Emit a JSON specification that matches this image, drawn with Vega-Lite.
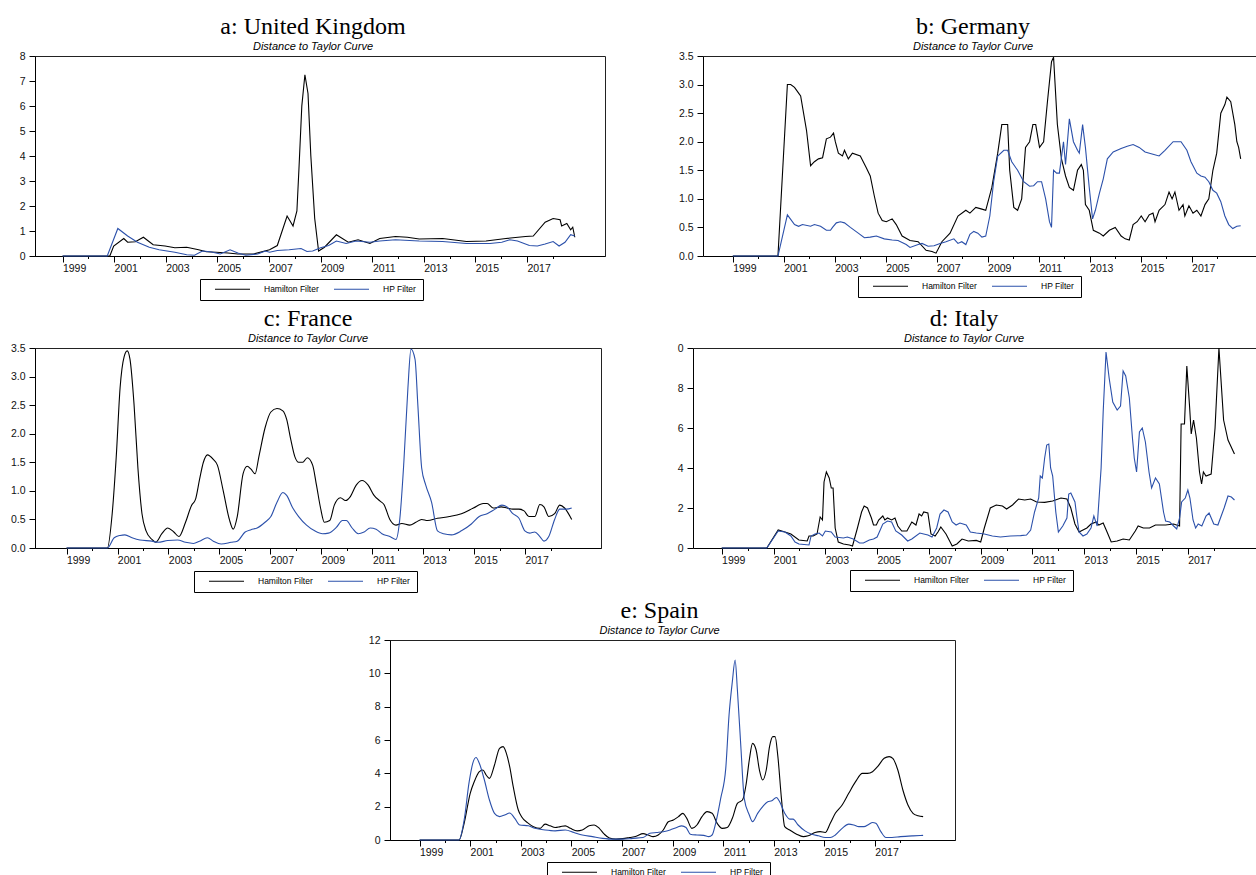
{
"$schema": "https://vega.github.io/schema/vega-lite/v6.json",
"padding": {"left": 9, "top": 14, "right": 0, "bottom": 0},
"config": {
 "font": "Liberation Sans",
 "view": {"stroke": "#222", "strokeWidth": 1},
 "axis": {"labelFont": "Liberation Sans", "labelFontSize": 10.5, "labelColor": "#111", "domainColor": "#000", "tickColor": "#000", "grid": false, "labelFlush": false, "labelOverlap": false, "labelBound": false, "labelSeparation": -40},
 "axisY": {"tickSize": 6, "labelPadding": 4, "labelOverlap": false},
 "title": {"font": "Liberation Serif", "fontSize": 24, "fontWeight": "normal", "color": "#000", "subtitleFont": "Liberation Sans", "subtitleFontStyle": "italic", "subtitleFontSize": 11, "subtitleColor": "#000", "subtitlePadding": 2, "offset": -1, "anchor": "middle"},
 "legend": {"orient": "none", "direction": "horizontal", "symbolType": "stroke", "symbolSize": 1225, "symbolStrokeWidth": 1.2, "clipHeight": 8, "symbolOffset": 8, "labelOffset": 13, "columnPadding": 6, "padding": 6, "labelFont": "Liberation Sans", "labelFontSize": 8.5, "labelColor": "#000", "strokeColor": "#000", "fillColor": "#fff"},
 "line": {"strokeWidth": 1.1}
},
"datasets": {
"uk_h": [{"t":1999,"v":0},{"t":2000.83,"v":0},{"t":2000.98,"v":0.4},{"t":2001.37,"v":0.7},{"t":2001.52,"v":0.55},{"t":2001.82,"v":0.57},{"t":2002.13,"v":0.75},{"t":2002.51,"v":0.45},{"t":2002.97,"v":0.4},{"t":2003.35,"v":0.33},{"t":2003.81,"v":0.35},{"t":2004.27,"v":0.25},{"t":2004.57,"v":0.17},{"t":2004.95,"v":0.15},{"t":2005.41,"v":0.12},{"t":2005.79,"v":0.08},{"t":2006.4,"v":0.08},{"t":2007.02,"v":0.25},{"t":2007.32,"v":0.42},{"t":2007.7,"v":1.6},{"t":2007.93,"v":1.2},{"t":2008.08,"v":1.8},{"t":2008.16,"v":3.5},{"t":2008.27,"v":6.0},{"t":2008.39,"v":7.25},{"t":2008.51,"v":6.5},{"t":2008.62,"v":4.0},{"t":2008.77,"v":1.5},{"t":2008.92,"v":0.2},{"t":2009.15,"v":0.35},{"t":2009.61,"v":0.85},{"t":2010.07,"v":0.55},{"t":2010.45,"v":0.65},{"t":2010.91,"v":0.5},{"t":2011.29,"v":0.7},{"t":2011.9,"v":0.78},{"t":2012.36,"v":0.75},{"t":2012.82,"v":0.68},{"t":2013.73,"v":0.7},{"t":2014.65,"v":0.58},{"t":2015.41,"v":0.6},{"t":2016.18,"v":0.7},{"t":2016.94,"v":0.78},{"t":2017.24,"v":0.8},{"t":2017.7,"v":1.35},{"t":2018.01,"v":1.5},{"t":2018.28,"v":1.45},{"t":2018.34,"v":1.2},{"t":2018.54,"v":1.3},{"t":2018.69,"v":1.05},{"t":2018.77,"v":1.15},{"t":2018.85,"v":0.75}],
"uk_p": [{"t":1999,"v":0},{"t":2000.73,"v":0},{"t":2001.14,"v":1.1},{"t":2001.52,"v":0.8},{"t":2001.9,"v":0.55},{"t":2002.36,"v":0.35},{"t":2002.74,"v":0.25},{"t":2003.35,"v":0.15},{"t":2003.81,"v":0.05},{"t":2004.11,"v":0.03},{"t":2004.42,"v":0.2},{"t":2004.73,"v":0.17},{"t":2005.11,"v":0.08},{"t":2005.49,"v":0.25},{"t":2005.79,"v":0.12},{"t":2006.1,"v":0.03},{"t":2006.56,"v":0.08},{"t":2006.86,"v":0.2},{"t":2007.02,"v":0.15},{"t":2007.32,"v":0.22},{"t":2007.78,"v":0.25},{"t":2008.24,"v":0.3},{"t":2008.47,"v":0.18},{"t":2008.69,"v":0.2},{"t":2009.0,"v":0.33},{"t":2009.31,"v":0.42},{"t":2009.61,"v":0.6},{"t":2009.99,"v":0.5},{"t":2010.37,"v":0.6},{"t":2010.91,"v":0.55},{"t":2011.29,"v":0.6},{"t":2011.9,"v":0.65},{"t":2012.82,"v":0.6},{"t":2013.73,"v":0.58},{"t":2014.65,"v":0.5},{"t":2015.56,"v":0.5},{"t":2016.02,"v":0.55},{"t":2016.33,"v":0.65},{"t":2016.63,"v":0.6},{"t":2017.09,"v":0.42},{"t":2017.4,"v":0.4},{"t":2017.7,"v":0.48},{"t":2018.01,"v":0.58},{"t":2018.24,"v":0.4},{"t":2018.47,"v":0.55},{"t":2018.69,"v":0.85},{"t":2018.85,"v":0.8}],
"de_h": [{"t":1999,"v":0},{"t":2000.77,"v":0},{"t":2001.14,"v":3.0},{"t":2001.27,"v":3.0},{"t":2001.42,"v":2.95},{"t":2001.58,"v":2.85},{"t":2001.66,"v":2.8},{"t":2001.89,"v":2.2},{"t":2002.05,"v":1.58},{"t":2002.2,"v":1.65},{"t":2002.36,"v":1.7},{"t":2002.52,"v":1.72},{"t":2002.67,"v":2.05},{"t":2002.83,"v":2.08},{"t":2002.95,"v":2.15},{"t":2003.02,"v":2.0},{"t":2003.14,"v":1.8},{"t":2003.3,"v":1.75},{"t":2003.38,"v":1.85},{"t":2003.53,"v":1.7},{"t":2003.69,"v":1.8},{"t":2004.0,"v":1.75},{"t":2004.23,"v":1.55},{"t":2004.39,"v":1.4},{"t":2004.55,"v":1.05},{"t":2004.7,"v":0.75},{"t":2004.86,"v":0.62},{"t":2005.02,"v":0.6},{"t":2005.25,"v":0.65},{"t":2005.41,"v":0.55},{"t":2005.64,"v":0.35},{"t":2005.95,"v":0.27},{"t":2006.27,"v":0.25},{"t":2006.58,"v":0.1},{"t":2006.81,"v":0.08},{"t":2006.97,"v":0.05},{"t":2007.2,"v":0.25},{"t":2007.52,"v":0.4},{"t":2007.83,"v":0.7},{"t":2008.14,"v":0.8},{"t":2008.3,"v":0.75},{"t":2008.53,"v":0.85},{"t":2008.77,"v":0.82},{"t":2008.92,"v":0.8},{"t":2009.16,"v":1.2},{"t":2009.39,"v":1.8},{"t":2009.55,"v":2.3},{"t":2009.7,"v":2.3},{"t":2009.78,"v":2.3},{"t":2009.86,"v":1.5},{"t":2010.02,"v":0.85},{"t":2010.17,"v":0.8},{"t":2010.33,"v":1.0},{"t":2010.48,"v":1.9},{"t":2010.64,"v":2.0},{"t":2010.77,"v":2.3},{"t":2010.88,"v":2.3},{"t":2011.03,"v":1.9},{"t":2011.19,"v":2.0},{"t":2011.34,"v":2.7},{"t":2011.5,"v":3.4},{"t":2011.58,"v":3.48},{"t":2011.73,"v":2.3},{"t":2011.89,"v":1.7},{"t":2012.05,"v":1.4},{"t":2012.2,"v":1.2},{"t":2012.36,"v":1.15},{"t":2012.52,"v":1.5},{"t":2012.67,"v":1.6},{"t":2012.75,"v":1.5},{"t":2012.83,"v":0.9},{"t":2012.98,"v":0.8},{"t":2013.14,"v":0.45},{"t":2013.38,"v":0.4},{"t":2013.53,"v":0.35},{"t":2013.77,"v":0.45},{"t":2014.0,"v":0.5},{"t":2014.23,"v":0.35},{"t":2014.39,"v":0.3},{"t":2014.55,"v":0.28},{"t":2014.7,"v":0.55},{"t":2014.86,"v":0.6},{"t":2015.02,"v":0.7},{"t":2015.17,"v":0.6},{"t":2015.33,"v":0.72},{"t":2015.48,"v":0.75},{"t":2015.56,"v":0.6},{"t":2015.72,"v":0.8},{"t":2015.95,"v":0.9},{"t":2016.11,"v":1.12},{"t":2016.23,"v":1.0},{"t":2016.34,"v":1.12},{"t":2016.5,"v":0.8},{"t":2016.66,"v":0.9},{"t":2016.73,"v":0.7},{"t":2016.89,"v":0.88},{"t":2017.05,"v":0.75},{"t":2017.2,"v":0.8},{"t":2017.36,"v":0.7},{"t":2017.52,"v":0.9},{"t":2017.67,"v":1.0},{"t":2017.83,"v":1.5},{"t":2017.98,"v":1.8},{"t":2018.14,"v":2.5},{"t":2018.3,"v":2.65},{"t":2018.38,"v":2.78},{"t":2018.53,"v":2.7},{"t":2018.69,"v":2.3},{"t":2018.77,"v":2.0},{"t":2018.84,"v":1.9},{"t":2018.92,"v":1.7}],
"de_p": [{"t":1999,"v":0},{"t":2000.77,"v":0},{"t":2001.14,"v":0.72},{"t":2001.42,"v":0.55},{"t":2001.58,"v":0.52},{"t":2001.73,"v":0.55},{"t":2002.05,"v":0.52},{"t":2002.2,"v":0.55},{"t":2002.44,"v":0.52},{"t":2002.67,"v":0.45},{"t":2002.83,"v":0.45},{"t":2002.91,"v":0.5},{"t":2003.06,"v":0.58},{"t":2003.22,"v":0.6},{"t":2003.38,"v":0.58},{"t":2003.61,"v":0.5},{"t":2003.92,"v":0.4},{"t":2004.16,"v":0.32},{"t":2004.39,"v":0.33},{"t":2004.63,"v":0.35},{"t":2004.94,"v":0.3},{"t":2005.25,"v":0.28},{"t":2005.48,"v":0.27},{"t":2005.8,"v":0.2},{"t":2005.95,"v":0.15},{"t":2006.27,"v":0.2},{"t":2006.42,"v":0.22},{"t":2006.66,"v":0.17},{"t":2006.89,"v":0.18},{"t":2007.13,"v":0.22},{"t":2007.36,"v":0.25},{"t":2007.67,"v":0.3},{"t":2007.83,"v":0.22},{"t":2007.98,"v":0.25},{"t":2008.14,"v":0.2},{"t":2008.3,"v":0.38},{"t":2008.45,"v":0.43},{"t":2008.61,"v":0.4},{"t":2008.77,"v":0.33},{"t":2008.92,"v":0.35},{"t":2009.08,"v":0.7},{"t":2009.23,"v":1.3},{"t":2009.39,"v":1.75},{"t":2009.63,"v":1.85},{"t":2009.78,"v":1.85},{"t":2009.94,"v":1.65},{"t":2010.17,"v":1.5},{"t":2010.41,"v":1.3},{"t":2010.64,"v":1.22},{"t":2010.8,"v":1.23},{"t":2010.95,"v":1.3},{"t":2011.11,"v":1.3},{"t":2011.27,"v":1.0},{"t":2011.42,"v":0.6},{"t":2011.5,"v":0.5},{"t":2011.58,"v":1.5},{"t":2011.7,"v":1.45},{"t":2011.81,"v":1.45},{"t":2011.97,"v":2.0},{"t":2012.05,"v":1.6},{"t":2012.2,"v":2.4},{"t":2012.36,"v":2.0},{"t":2012.52,"v":1.85},{"t":2012.59,"v":1.8},{"t":2012.72,"v":2.3},{"t":2012.83,"v":1.9},{"t":2012.98,"v":1.2},{"t":2013.11,"v":0.65},{"t":2013.22,"v":0.8},{"t":2013.38,"v":1.1},{"t":2013.53,"v":1.35},{"t":2013.69,"v":1.7},{"t":2013.92,"v":1.82},{"t":2014.23,"v":1.88},{"t":2014.47,"v":1.92},{"t":2014.7,"v":1.95},{"t":2014.94,"v":1.9},{"t":2015.17,"v":1.82},{"t":2015.48,"v":1.78},{"t":2015.72,"v":1.75},{"t":2015.95,"v":1.85},{"t":2016.27,"v":2.0},{"t":2016.58,"v":2.0},{"t":2016.81,"v":1.85},{"t":2016.97,"v":1.65},{"t":2017.2,"v":1.45},{"t":2017.36,"v":1.4},{"t":2017.52,"v":1.38},{"t":2017.67,"v":1.3},{"t":2017.83,"v":1.15},{"t":2017.98,"v":1.1},{"t":2018.14,"v":0.95},{"t":2018.3,"v":0.7},{"t":2018.45,"v":0.55},{"t":2018.61,"v":0.48},{"t":2018.77,"v":0.52},{"t":2018.92,"v":0.53}],
"fr_h": [{"t":1999,"v":0},{"t":2000.6,"v":0},{"t":2000.79,"v":0.6},{"t":2000.95,"v":1.6},{"t":2001.1,"v":2.8},{"t":2001.26,"v":3.35},{"t":2001.38,"v":3.45},{"t":2001.49,"v":3.3},{"t":2001.65,"v":2.5},{"t":2001.8,"v":1.4},{"t":2001.96,"v":0.6},{"t":2002.12,"v":0.3},{"t":2002.35,"v":0.15},{"t":2002.5,"v":0.1},{"t":2002.74,"v":0.25},{"t":2002.97,"v":0.35},{"t":2003.21,"v":0.28},{"t":2003.41,"v":0.2},{"t":2003.67,"v":0.45},{"t":2003.91,"v":0.75},{"t":2004.06,"v":0.85},{"t":2004.22,"v":1.2},{"t":2004.37,"v":1.5},{"t":2004.53,"v":1.63},{"t":2004.76,"v":1.55},{"t":2004.92,"v":1.45},{"t":2005.15,"v":1.0},{"t":2005.39,"v":0.5},{"t":2005.54,"v":0.33},{"t":2005.7,"v":0.55},{"t":2005.93,"v":1.3},{"t":2006.09,"v":1.43},{"t":2006.24,"v":1.38},{"t":2006.4,"v":1.3},{"t":2006.55,"v":1.6},{"t":2006.79,"v":2.1},{"t":2007.02,"v":2.38},{"t":2007.26,"v":2.44},{"t":2007.49,"v":2.4},{"t":2007.64,"v":2.25},{"t":2007.8,"v":1.9},{"t":2007.96,"v":1.6},{"t":2008.11,"v":1.5},{"t":2008.27,"v":1.5},{"t":2008.45,"v":1.58},{"t":2008.66,"v":1.45},{"t":2008.81,"v":1.1},{"t":2008.97,"v":0.7},{"t":2009.12,"v":0.45},{"t":2009.33,"v":0.48},{"t":2009.51,"v":0.75},{"t":2009.75,"v":0.88},{"t":2009.95,"v":0.83},{"t":2010.14,"v":0.9},{"t":2010.37,"v":1.1},{"t":2010.6,"v":1.18},{"t":2010.84,"v":1.1},{"t":2011.07,"v":0.92},{"t":2011.31,"v":0.82},{"t":2011.46,"v":0.76},{"t":2011.69,"v":0.5},{"t":2011.93,"v":0.4},{"t":2012.16,"v":0.43},{"t":2012.47,"v":0.4},{"t":2012.71,"v":0.45},{"t":2012.94,"v":0.5},{"t":2013.17,"v":0.48},{"t":2013.56,"v":0.52},{"t":2014.03,"v":0.55},{"t":2014.5,"v":0.6},{"t":2014.97,"v":0.7},{"t":2015.36,"v":0.78},{"t":2015.51,"v":0.78},{"t":2015.74,"v":0.7},{"t":2016.06,"v":0.72},{"t":2016.29,"v":0.7},{"t":2016.52,"v":0.68},{"t":2016.76,"v":0.68},{"t":2016.96,"v":0.65},{"t":2017.15,"v":0.55},{"t":2017.38,"v":0.55},{"t":2017.58,"v":0.76},{"t":2017.74,"v":0.72},{"t":2017.93,"v":0.55},{"t":2018.16,"v":0.6},{"t":2018.36,"v":0.75},{"t":2018.55,"v":0.7},{"t":2018.83,"v":0.5}],
"fr_p": [{"t":1999,"v":0},{"t":2000.6,"v":0},{"t":2000.87,"v":0.18},{"t":2001.1,"v":0.22},{"t":2001.29,"v":0.23},{"t":2001.57,"v":0.18},{"t":2001.88,"v":0.14},{"t":2002.35,"v":0.12},{"t":2002.58,"v":0.1},{"t":2002.97,"v":0.13},{"t":2003.36,"v":0.14},{"t":2003.67,"v":0.1},{"t":2003.98,"v":0.08},{"t":2004.22,"v":0.12},{"t":2004.53,"v":0.18},{"t":2004.76,"v":0.12},{"t":2005.07,"v":0.07},{"t":2005.46,"v":0.1},{"t":2005.7,"v":0.12},{"t":2006.01,"v":0.28},{"t":2006.24,"v":0.32},{"t":2006.48,"v":0.35},{"t":2006.79,"v":0.45},{"t":2007.02,"v":0.55},{"t":2007.26,"v":0.8},{"t":2007.49,"v":0.97},{"t":2007.64,"v":0.92},{"t":2007.88,"v":0.7},{"t":2008.11,"v":0.55},{"t":2008.42,"v":0.4},{"t":2008.74,"v":0.3},{"t":2009.05,"v":0.25},{"t":2009.28,"v":0.26},{"t":2009.59,"v":0.36},{"t":2009.83,"v":0.48},{"t":2009.98,"v":0.48},{"t":2010.21,"v":0.35},{"t":2010.45,"v":0.25},{"t":2010.68,"v":0.28},{"t":2010.92,"v":0.35},{"t":2011.15,"v":0.33},{"t":2011.38,"v":0.25},{"t":2011.69,"v":0.2},{"t":2011.93,"v":0.15},{"t":2012.08,"v":0.5},{"t":2012.24,"v":1.5},{"t":2012.4,"v":2.8},{"t":2012.52,"v":3.48},{"t":2012.68,"v":3.3},{"t":2012.79,"v":2.5},{"t":2012.94,"v":1.4},{"t":2013.1,"v":1.1},{"t":2013.33,"v":0.8},{"t":2013.56,"v":0.3},{"t":2013.8,"v":0.25},{"t":2014.11,"v":0.23},{"t":2014.5,"v":0.3},{"t":2014.89,"v":0.42},{"t":2015.2,"v":0.55},{"t":2015.51,"v":0.6},{"t":2015.82,"v":0.68},{"t":2016.09,"v":0.75},{"t":2016.29,"v":0.72},{"t":2016.52,"v":0.6},{"t":2016.76,"v":0.52},{"t":2016.99,"v":0.3},{"t":2017.18,"v":0.26},{"t":2017.38,"v":0.28},{"t":2017.58,"v":0.2},{"t":2017.74,"v":0.12},{"t":2017.93,"v":0.2},{"t":2018.16,"v":0.5},{"t":2018.36,"v":0.68},{"t":2018.63,"v":0.68},{"t":2018.83,"v":0.7}],
"it_h": [{"t":1999,"v":0},{"t":2000.74,"v":0},{"t":2001.18,"v":0.9},{"t":2001.44,"v":0.8},{"t":2001.67,"v":0.7},{"t":2001.98,"v":0.4},{"t":2002.3,"v":0.35},{"t":2002.37,"v":0.6},{"t":2002.53,"v":0.6},{"t":2002.68,"v":0.7},{"t":2002.8,"v":1.55},{"t":2002.89,"v":1.4},{"t":2002.95,"v":3.3},{"t":2003.04,"v":3.8},{"t":2003.15,"v":3.5},{"t":2003.23,"v":3.0},{"t":2003.3,"v":3.0},{"t":2003.38,"v":1.0},{"t":2003.5,"v":0.3},{"t":2003.7,"v":0.2},{"t":2003.93,"v":0.15},{"t":2004.05,"v":0.1},{"t":2004.24,"v":1.0},{"t":2004.4,"v":1.8},{"t":2004.5,"v":2.1},{"t":2004.63,"v":2.0},{"t":2004.78,"v":1.5},{"t":2004.86,"v":1.15},{"t":2004.97,"v":1.15},{"t":2005.06,"v":1.4},{"t":2005.22,"v":1.6},{"t":2005.3,"v":1.4},{"t":2005.4,"v":1.5},{"t":2005.56,"v":1.4},{"t":2005.69,"v":1.5},{"t":2005.8,"v":1.1},{"t":2005.95,"v":0.85},{"t":2006.15,"v":0.85},{"t":2006.34,"v":1.3},{"t":2006.5,"v":1.15},{"t":2006.62,"v":1.7},{"t":2006.72,"v":1.6},{"t":2006.8,"v":1.8},{"t":2006.96,"v":1.75},{"t":2007.08,"v":0.7},{"t":2007.24,"v":0.6},{"t":2007.35,"v":0.8},{"t":2007.46,"v":1.05},{"t":2007.66,"v":0.7},{"t":2007.82,"v":0.3},{"t":2007.9,"v":0.1},{"t":2008.08,"v":0.2},{"t":2008.28,"v":0.45},{"t":2008.52,"v":0.35},{"t":2008.83,"v":0.38},{"t":2009.0,"v":0.3},{"t":2009.14,"v":1.0},{"t":2009.37,"v":2.0},{"t":2009.6,"v":2.15},{"t":2009.84,"v":2.1},{"t":2010.0,"v":1.95},{"t":2010.23,"v":2.15},{"t":2010.46,"v":2.45},{"t":2010.7,"v":2.4},{"t":2010.93,"v":2.45},{"t":2011.16,"v":2.3},{"t":2011.47,"v":2.28},{"t":2011.78,"v":2.35},{"t":2012.1,"v":2.5},{"t":2012.33,"v":2.45},{"t":2012.48,"v":2.0},{"t":2012.64,"v":1.2},{"t":2012.8,"v":0.8},{"t":2012.95,"v":0.9},{"t":2013.1,"v":1.0},{"t":2013.26,"v":1.2},{"t":2013.46,"v":1.3},{"t":2013.56,"v":1.15},{"t":2013.73,"v":1.25},{"t":2013.88,"v":0.8},{"t":2014.04,"v":0.3},{"t":2014.27,"v":0.35},{"t":2014.5,"v":0.45},{"t":2014.74,"v":0.4},{"t":2014.97,"v":0.85},{"t":2015.08,"v":1.1},{"t":2015.28,"v":1.0},{"t":2015.52,"v":1.0},{"t":2015.75,"v":1.15},{"t":2016.14,"v":1.15},{"t":2016.45,"v":1.2},{"t":2016.68,"v":1.1},{"t":2016.74,"v":6.2},{"t":2016.87,"v":6.2},{"t":2016.96,"v":9.1},{"t":2017.07,"v":7.0},{"t":2017.13,"v":5.7},{"t":2017.22,"v":6.4},{"t":2017.33,"v":5.5},{"t":2017.45,"v":3.8},{"t":2017.53,"v":3.2},{"t":2017.6,"v":3.8},{"t":2017.7,"v":3.6},{"t":2017.9,"v":3.7},{"t":2018.05,"v":6.0},{"t":2018.2,"v":10.0},{"t":2018.38,"v":6.4},{"t":2018.55,"v":5.4},{"t":2018.8,"v":4.7}],
"it_p": [{"t":1999,"v":0},{"t":2000.74,"v":0},{"t":2001.18,"v":0.85},{"t":2001.44,"v":0.8},{"t":2001.67,"v":0.6},{"t":2001.83,"v":0.3},{"t":2001.98,"v":0.2},{"t":2002.37,"v":0.15},{"t":2002.45,"v":0.6},{"t":2002.6,"v":0.7},{"t":2002.76,"v":0.75},{"t":2002.89,"v":0.6},{"t":2003.0,"v":0.85},{"t":2003.23,"v":0.8},{"t":2003.38,"v":0.55},{"t":2003.7,"v":0.5},{"t":2003.85,"v":0.55},{"t":2004.08,"v":0.45},{"t":2004.32,"v":0.25},{"t":2004.47,"v":0.25},{"t":2004.7,"v":0.4},{"t":2004.86,"v":0.45},{"t":2005.0,"v":0.55},{"t":2005.22,"v":1.2},{"t":2005.4,"v":1.35},{"t":2005.56,"v":1.3},{"t":2005.72,"v":0.85},{"t":2005.95,"v":0.65},{"t":2006.18,"v":0.35},{"t":2006.34,"v":0.45},{"t":2006.65,"v":0.75},{"t":2006.8,"v":0.7},{"t":2006.96,"v":0.65},{"t":2007.12,"v":0.55},{"t":2007.3,"v":1.0},{"t":2007.43,"v":1.7},{"t":2007.58,"v":1.9},{"t":2007.74,"v":1.8},{"t":2007.9,"v":1.3},{"t":2008.05,"v":1.15},{"t":2008.2,"v":1.25},{"t":2008.44,"v":1.15},{"t":2008.6,"v":0.8},{"t":2008.83,"v":0.75},{"t":2009.14,"v":0.7},{"t":2009.45,"v":0.6},{"t":2009.76,"v":0.55},{"t":2010.15,"v":0.6},{"t":2010.54,"v":0.62},{"t":2010.77,"v":0.65},{"t":2010.93,"v":0.9},{"t":2011.08,"v":1.8},{"t":2011.24,"v":2.5},{"t":2011.3,"v":3.6},{"t":2011.38,"v":3.5},{"t":2011.47,"v":4.5},{"t":2011.55,"v":5.15},{"t":2011.63,"v":5.2},{"t":2011.7,"v":4.0},{"t":2011.78,"v":3.6},{"t":2011.9,"v":1.8},{"t":2012.0,"v":0.8},{"t":2012.17,"v":1.1},{"t":2012.33,"v":1.5},{"t":2012.4,"v":2.7},{"t":2012.48,"v":2.75},{"t":2012.64,"v":2.3},{"t":2012.72,"v":1.5},{"t":2012.8,"v":0.8},{"t":2012.95,"v":0.6},{"t":2013.1,"v":0.7},{"t":2013.26,"v":1.0},{"t":2013.37,"v":1.6},{"t":2013.5,"v":1.1},{"t":2013.65,"v":4.0},{"t":2013.73,"v":6.8},{"t":2013.84,"v":9.8},{"t":2013.96,"v":8.5},{"t":2014.1,"v":7.3},{"t":2014.27,"v":6.9},{"t":2014.4,"v":7.1},{"t":2014.5,"v":8.85},{"t":2014.6,"v":8.6},{"t":2014.74,"v":7.5},{"t":2014.86,"v":5.5},{"t":2014.93,"v":4.5},{"t":2015.02,"v":3.8},{"t":2015.13,"v":5.8},{"t":2015.24,"v":6.0},{"t":2015.36,"v":5.3},{"t":2015.5,"v":3.8},{"t":2015.6,"v":3.0},{"t":2015.75,"v":3.5},{"t":2015.9,"v":3.2},{"t":2016.06,"v":1.8},{"t":2016.14,"v":1.35},{"t":2016.3,"v":1.3},{"t":2016.45,"v":1.1},{"t":2016.57,"v":0.95},{"t":2016.68,"v":1.5},{"t":2016.76,"v":2.3},{"t":2016.9,"v":2.5},{"t":2017.0,"v":2.9},{"t":2017.08,"v":2.5},{"t":2017.2,"v":1.4},{"t":2017.3,"v":1.0},{"t":2017.4,"v":1.2},{"t":2017.54,"v":1.1},{"t":2017.7,"v":1.6},{"t":2017.82,"v":1.75},{"t":2018.0,"v":1.2},{"t":2018.16,"v":1.15},{"t":2018.4,"v":2.0},{"t":2018.55,"v":2.6},{"t":2018.68,"v":2.55},{"t":2018.8,"v":2.4}],
"es_h": [{"t":1999,"v":0},{"t":2000.56,"v":0},{"t":2000.76,"v":1.0},{"t":2001.0,"v":2.8},{"t":2001.16,"v":3.5},{"t":2001.36,"v":4.1},{"t":2001.5,"v":4.2},{"t":2001.63,"v":3.9},{"t":2001.76,"v":3.7},{"t":2001.96,"v":4.5},{"t":2002.16,"v":5.5},{"t":2002.3,"v":5.6},{"t":2002.43,"v":5.2},{"t":2002.56,"v":4.4},{"t":2002.7,"v":3.2},{"t":2002.9,"v":1.8},{"t":2003.03,"v":1.4},{"t":2003.3,"v":1.0},{"t":2003.5,"v":0.8},{"t":2003.76,"v":0.7},{"t":2003.96,"v":0.95},{"t":2004.16,"v":0.85},{"t":2004.36,"v":0.75},{"t":2004.56,"v":0.8},{"t":2004.76,"v":0.85},{"t":2004.96,"v":0.7},{"t":2005.23,"v":0.55},{"t":2005.43,"v":0.6},{"t":2005.7,"v":0.85},{"t":2005.9,"v":0.9},{"t":2006.1,"v":0.7},{"t":2006.3,"v":0.35},{"t":2006.5,"v":0.12},{"t":2006.76,"v":0.05},{"t":2007.03,"v":0.08},{"t":2007.3,"v":0.15},{"t":2007.56,"v":0.22},{"t":2007.83,"v":0.38},{"t":2008.03,"v":0.3},{"t":2008.23,"v":0.2},{"t":2008.43,"v":0.3},{"t":2008.63,"v":0.6},{"t":2008.83,"v":1.1},{"t":2009.03,"v":1.2},{"t":2009.23,"v":1.4},{"t":2009.4,"v":1.6},{"t":2009.56,"v":1.3},{"t":2009.76,"v":0.7},{"t":2009.96,"v":0.9},{"t":2010.16,"v":1.4},{"t":2010.36,"v":1.7},{"t":2010.56,"v":1.6},{"t":2010.76,"v":1.0},{"t":2010.96,"v":0.7},{"t":2011.16,"v":0.75},{"t":2011.36,"v":1.3},{"t":2011.56,"v":2.2},{"t":2011.76,"v":2.4},{"t":2011.9,"v":3.3},{"t":2012.03,"v":4.8},{"t":2012.16,"v":5.8},{"t":2012.3,"v":5.4},{"t":2012.43,"v":4.2},{"t":2012.56,"v":3.6},{"t":2012.7,"v":4.2},{"t":2012.83,"v":5.6},{"t":2012.96,"v":6.2},{"t":2013.05,"v":6.2},{"t":2013.16,"v":5.0},{"t":2013.3,"v":2.5},{"t":2013.43,"v":0.8},{"t":2013.63,"v":0.6},{"t":2013.9,"v":0.35},{"t":2014.16,"v":0.2},{"t":2014.36,"v":0.25},{"t":2014.63,"v":0.45},{"t":2014.83,"v":0.5},{"t":2015.03,"v":0.45},{"t":2015.23,"v":1.0},{"t":2015.43,"v":1.6},{"t":2015.7,"v":2.1},{"t":2015.96,"v":2.8},{"t":2016.23,"v":3.5},{"t":2016.5,"v":4.0},{"t":2016.7,"v":4.0},{"t":2016.9,"v":4.1},{"t":2017.1,"v":4.4},{"t":2017.36,"v":4.9},{"t":2017.56,"v":5.0},{"t":2017.7,"v":4.9},{"t":2017.9,"v":4.2},{"t":2018.1,"v":3.0},{"t":2018.3,"v":2.1},{"t":2018.5,"v":1.6},{"t":2018.7,"v":1.45},{"t":2018.9,"v":1.4}],
"es_p": [{"t":1999,"v":0},{"t":2000.56,"v":0},{"t":2000.76,"v":1.2},{"t":2000.96,"v":3.5},{"t":2001.1,"v":4.6},{"t":2001.23,"v":4.95},{"t":2001.36,"v":4.6},{"t":2001.56,"v":3.6},{"t":2001.76,"v":2.4},{"t":2001.96,"v":1.6},{"t":2002.16,"v":1.4},{"t":2002.36,"v":1.5},{"t":2002.56,"v":1.62},{"t":2002.76,"v":1.3},{"t":2002.96,"v":0.9},{"t":2003.3,"v":0.85},{"t":2003.56,"v":0.7},{"t":2003.96,"v":0.6},{"t":2004.36,"v":0.55},{"t":2004.76,"v":0.6},{"t":2005.1,"v":0.45},{"t":2005.43,"v":0.3},{"t":2005.83,"v":0.2},{"t":2006.23,"v":0.1},{"t":2006.63,"v":0.05},{"t":2007.03,"v":0.05},{"t":2007.43,"v":0.1},{"t":2007.83,"v":0.15},{"t":2008.1,"v":0.4},{"t":2008.36,"v":0.45},{"t":2008.63,"v":0.5},{"t":2008.9,"v":0.6},{"t":2009.16,"v":0.75},{"t":2009.36,"v":0.85},{"t":2009.53,"v":0.75},{"t":2009.7,"v":0.35},{"t":2009.96,"v":0.3},{"t":2010.23,"v":0.28},{"t":2010.43,"v":0.2},{"t":2010.56,"v":0.3},{"t":2010.7,"v":1.0},{"t":2010.9,"v":2.5},{"t":2011.1,"v":4.3},{"t":2011.23,"v":7.5},{"t":2011.36,"v":9.5},{"t":2011.47,"v":10.8},{"t":2011.56,"v":9.0},{"t":2011.7,"v":5.5},{"t":2011.83,"v":2.5},{"t":2012.03,"v":1.5},{"t":2012.16,"v":1.1},{"t":2012.36,"v":1.6},{"t":2012.56,"v":2.0},{"t":2012.76,"v":2.3},{"t":2012.92,"v":2.35},{"t":2013.1,"v":2.55},{"t":2013.23,"v":2.3},{"t":2013.43,"v":1.6},{"t":2013.63,"v":1.25},{"t":2013.76,"v":1.25},{"t":2013.96,"v":0.9},{"t":2014.23,"v":0.55},{"t":2014.5,"v":0.35},{"t":2014.76,"v":0.25},{"t":2015.03,"v":0.15},{"t":2015.23,"v":0.15},{"t":2015.43,"v":0.3},{"t":2015.7,"v":0.7},{"t":2015.96,"v":0.95},{"t":2016.16,"v":0.9},{"t":2016.36,"v":0.8},{"t":2016.56,"v":0.8},{"t":2016.76,"v":0.95},{"t":2016.9,"v":1.05},{"t":2017.03,"v":1.0},{"t":2017.23,"v":0.5},{"t":2017.43,"v":0.15},{"t":2017.67,"v":0.15},{"t":2018.0,"v":0.2},{"t":2018.5,"v":0.25},{"t":2018.9,"v":0.28}]
},
"vconcat": [
 {"hconcat": [
  {"width": 570, "height": 200,
   "title": {"text": "a: United Kingdom", "subtitle": "Distance to Taylor Curve", "frame": "group", "dx": -7},
   "layer": [
    {"data": {"name": "uk_h"}, "mark": {"type": "line"},
     "encoding": {
      "x": {"field": "t", "type": "quantitative", "scale": {"domain": [1997.93, 2020.02], "nice": false, "zero": false},
            "axis": {"title": null, "values": [1999,2000,2001,2002,2003,2004,2005,2006,2007,2008,2009,2010,2011,2012,2013,2014,2015,2016,2017,2018], "labelExpr": "datum.value % 2 == 1 ? toString(datum.value) : ''", "tickSize": {"condition": {"test": "datum.value % 2 == 1", "value": 6}, "value": 2.5}, "labelOffset": 11.5, "labelPadding": 1, "labelOverlap": false}},
      "y": {"field": "v", "type": "quantitative", "scale": {"domain": [0, 8], "nice": false}, "axis": {"title": null, "values": [0,1,2,3,4,5,6,7,8], "labelOverlap": false}},
      "color": {"datum": "Hamilton Filter", "type": "nominal", "scale": {"domain": ["Hamilton Filter", "HP Filter"], "range": ["#000000", "#2b50aa"]}, "legend": {"title": null, "legendX": 165, "legendY": 223}}
     }},
    {"data": {"name": "uk_p"}, "mark": {"type": "line"},
     "encoding": {
      "x": {"field": "t", "type": "quantitative", "scale": {"domain": [1997.93, 2020.02], "nice": false, "zero": false},
            "axis": {"title": null, "values": [1999,2000,2001,2002,2003,2004,2005,2006,2007,2008,2009,2010,2011,2012,2013,2014,2015,2016,2017,2018], "labelExpr": "datum.value % 2 == 1 ? toString(datum.value) : ''", "tickSize": {"condition": {"test": "datum.value % 2 == 1", "value": 6}, "value": 2.5}, "labelOffset": 11.5, "labelPadding": 1, "labelOverlap": false}},
      "y": {"field": "v", "type": "quantitative", "scale": {"domain": [0, 8], "nice": false}, "axis": {"title": null, "values": [0,1,2,3,4,5,6,7,8], "labelOverlap": false}},
      "color": {"datum": "HP Filter", "type": "nominal"}
     }}
   ]},
  {"width": 554, "height": 200,
   "view": {"stroke": null},
   "title": {"text": "b: Germany", "subtitle": "Distance to Taylor Curve", "frame": "group", "dx": -7},
   "resolve": {"axis": {"x": "independent"}},
   "layer": [
    {"data": {"name": "de_h"}, "mark": {"type": "line"},
     "encoding": {
      "x": {"field": "t", "type": "quantitative", "scale": {"domain": [1997.83, 2019.56], "nice": false, "zero": false},
            "axis": {"title": null, "values": [1999,2000,2001,2002,2003,2004,2005,2006,2007,2008,2009,2010,2011,2012,2013,2014,2015,2016,2017,2018], "labelExpr": "datum.value % 2 == 1 ? toString(datum.value) : ''", "tickSize": {"condition": {"test": "datum.value % 2 == 1", "value": 6}, "value": 2.5}, "labelOffset": 11.5, "labelPadding": 1, "labelOverlap": false}},
      "y": {"field": "v", "type": "quantitative", "scale": {"domain": [0, 3.5], "nice": false}, "axis": {"title": null, "values": [0,0.5,1,1.5,2,2.5,3,3.5], "format": ".1f", "labelOverlap": false}},
      "color": {"datum": "Hamilton Filter", "type": "nominal", "scale": {"domain": ["Hamilton Filter", "HP Filter"], "range": ["#000000", "#2b50aa"]}, "legend": {"title": null, "legendX": 155, "legendY": 220}}
     }},
    {"data": {"name": "de_p"}, "mark": {"type": "line"},
     "encoding": {
      "x": {"field": "t", "type": "quantitative", "scale": {"domain": [1997.83, 2019.56], "nice": false, "zero": false},
            "axis": {"orient": "top", "title": null, "labels": false, "ticks": false, "domain": true, "domainColor": "#222"}},
      "y": {"field": "v", "type": "quantitative", "scale": {"domain": [0, 3.5], "nice": false}, "axis": {"title": null, "values": [0,0.5,1,1.5,2,2.5,3,3.5], "format": ".1f", "labelOverlap": false}},
      "color": {"datum": "HP Filter", "type": "nominal"}
     }}
   ]}
 ], "spacing": 98, "bounds": "flush", "resolve": {"scale": {"color": "independent"}, "legend": {"color": "independent"}}},
 {"hconcat": [
  {"width": 566, "height": 200,
   "title": {"text": "c: France", "subtitle": "Distance to Taylor Curve", "frame": "group", "dx": -10},
   "layer": [
    {"data": {"name": "fr_h"}, "mark": {"type": "line", "interpolate": "monotone"},
     "encoding": {
      "x": {"field": "t", "type": "quantitative", "scale": {"domain": [1997.76, 2019.98], "nice": false, "zero": false},
            "axis": {"title": null, "values": [1999,2000,2001,2002,2003,2004,2005,2006,2007,2008,2009,2010,2011,2012,2013,2014,2015,2016,2017,2018], "labelExpr": "datum.value % 2 == 1 ? toString(datum.value) : ''", "tickSize": {"condition": {"test": "datum.value % 2 == 1", "value": 6}, "value": 2.5}, "labelOffset": 11.5, "labelPadding": 1, "labelOverlap": false}},
      "y": {"field": "v", "type": "quantitative", "scale": {"domain": [0, 3.5], "nice": false}, "axis": {"title": null, "values": [0,0.5,1,1.5,2,2.5,3,3.5], "format": ".1f", "labelOverlap": false}},
      "color": {"datum": "Hamilton Filter", "type": "nominal", "scale": {"domain": ["Hamilton Filter", "HP Filter"], "range": ["#000000", "#2b50aa"]}, "legend": {"title": null, "legendX": 159, "legendY": 223}}
     }},
    {"data": {"name": "fr_p"}, "mark": {"type": "line", "interpolate": "monotone"},
     "encoding": {
      "x": {"field": "t", "type": "quantitative", "scale": {"domain": [1997.76, 2019.98], "nice": false, "zero": false},
            "axis": {"title": null, "values": [1999,2000,2001,2002,2003,2004,2005,2006,2007,2008,2009,2010,2011,2012,2013,2014,2015,2016,2017,2018], "labelExpr": "datum.value % 2 == 1 ? toString(datum.value) : ''", "tickSize": {"condition": {"test": "datum.value % 2 == 1", "value": 6}, "value": 2.5}, "labelOffset": 11.5, "labelPadding": 1, "labelOverlap": false}},
      "y": {"field": "v", "type": "quantitative", "scale": {"domain": [0, 3.5], "nice": false}, "axis": {"title": null, "values": [0,0.5,1,1.5,2,2.5,3,3.5], "format": ".1f", "labelOverlap": false}},
      "color": {"datum": "HP Filter", "type": "nominal"}
     }}
   ]},
  {"width": 564, "height": 200,
   "view": {"stroke": null},
   "title": {"text": "d: Italy", "subtitle": "Distance to Taylor Curve", "frame": "group", "dx": -11},
   "resolve": {"axis": {"x": "independent"}},
   "layer": [
    {"data": {"name": "it_h"}, "mark": {"type": "line"},
     "encoding": {
      "x": {"field": "t", "type": "quantitative", "scale": {"domain": [1997.89, 2019.67], "nice": false, "zero": false},
            "axis": {"title": null, "values": [1999,2000,2001,2002,2003,2004,2005,2006,2007,2008,2009,2010,2011,2012,2013,2014,2015,2016,2017,2018], "labelExpr": "datum.value % 2 == 1 ? toString(datum.value) : ''", "tickSize": {"condition": {"test": "datum.value % 2 == 1", "value": 6}, "value": 2.5}, "labelOffset": 11.5, "labelPadding": 1, "labelOverlap": false}},
      "y": {"field": "v", "type": "quantitative", "scale": {"domain": [0, 10], "nice": false}, "axis": {"title": null, "values": [0,2,4,6,8,10], "labelExpr": "datum.value == 10 ? '0' : datum.label", "labelOverlap": false}},
      "color": {"datum": "Hamilton Filter", "type": "nominal", "scale": {"domain": ["Hamilton Filter", "HP Filter"], "range": ["#000000", "#2b50aa"]}, "legend": {"title": null, "legendX": 157, "legendY": 222}}
     }},
    {"data": {"name": "it_p"}, "mark": {"type": "line"},
     "encoding": {
      "x": {"field": "t", "type": "quantitative", "scale": {"domain": [1997.89, 2019.67], "nice": false, "zero": false},
            "axis": {"orient": "top", "title": null, "labels": false, "ticks": false, "domain": true, "domainColor": "#222"}},
      "y": {"field": "v", "type": "quantitative", "scale": {"domain": [0, 10], "nice": false}, "axis": {"title": null, "values": [0,2,4,6,8,10], "labelExpr": "datum.value == 10 ? '0' : datum.label", "labelOverlap": false}},
      "color": {"datum": "HP Filter", "type": "nominal"}
     }}
   ]}
 ], "spacing": 92, "bounds": "flush", "resolve": {"scale": {"color": "independent"}, "legend": {"color": "independent"}}},
 {"hconcat": [
  {"width": 335, "height": 200, "view": {"stroke": null}, "data": {"values": [{}]}, "mark": {"type": "point", "opacity": 0}, "encoding": {}},
  {"width": 565, "height": 200,
   "title": {"text": "e: Spain", "subtitle": "Distance to Taylor Curve", "frame": "group", "dx": -13},
   "layer": [
    {"data": {"name": "es_h"}, "mark": {"type": "line", "interpolate": "monotone"},
     "encoding": {
      "x": {"field": "t", "type": "quantitative", "scale": {"domain": [1997.83, 2020.16], "nice": false, "zero": false},
            "axis": {"title": null, "values": [1999,2000,2001,2002,2003,2004,2005,2006,2007,2008,2009,2010,2011,2012,2013,2014,2015,2016,2017,2018], "labelExpr": "datum.value % 2 == 1 ? toString(datum.value) : ''", "tickSize": {"condition": {"test": "datum.value % 2 == 1", "value": 6}, "value": 2.5}, "labelOffset": 11.5, "labelPadding": 1, "labelOverlap": false}},
      "y": {"field": "v", "type": "quantitative", "scale": {"domain": [0, 12], "nice": false}, "axis": {"title": null, "values": [0,2,4,6,8,10,12], "labelOverlap": false}},
      "color": {"datum": "Hamilton Filter", "type": "nominal", "scale": {"domain": ["Hamilton Filter", "HP Filter"], "range": ["#000000", "#2b50aa"]}, "legend": {"title": null, "legendX": 157, "legendY": 222}}
     }},
    {"data": {"name": "es_p"}, "mark": {"type": "line", "interpolate": "monotone"},
     "encoding": {
      "x": {"field": "t", "type": "quantitative", "scale": {"domain": [1997.83, 2020.16], "nice": false, "zero": false},
            "axis": {"title": null, "values": [1999,2000,2001,2002,2003,2004,2005,2006,2007,2008,2009,2010,2011,2012,2013,2014,2015,2016,2017,2018], "labelExpr": "datum.value % 2 == 1 ? toString(datum.value) : ''", "tickSize": {"condition": {"test": "datum.value % 2 == 1", "value": 6}, "value": 2.5}, "labelOffset": 11.5, "labelPadding": 1, "labelOverlap": false}},
      "y": {"field": "v", "type": "quantitative", "scale": {"domain": [0, 12], "nice": false}, "axis": {"title": null, "values": [0,2,4,6,8,10,12], "labelOverlap": false}},
      "color": {"datum": "HP Filter", "type": "nominal"}
     }}
   ]}
 ], "spacing": 20, "bounds": "flush", "resolve": {"scale": {"color": "independent"}, "legend": {"color": "independent"}}}
],
"spacing": 5,
"resolve": {"scale": {"color": "independent"}, "legend": {"color": "independent"}}
}
